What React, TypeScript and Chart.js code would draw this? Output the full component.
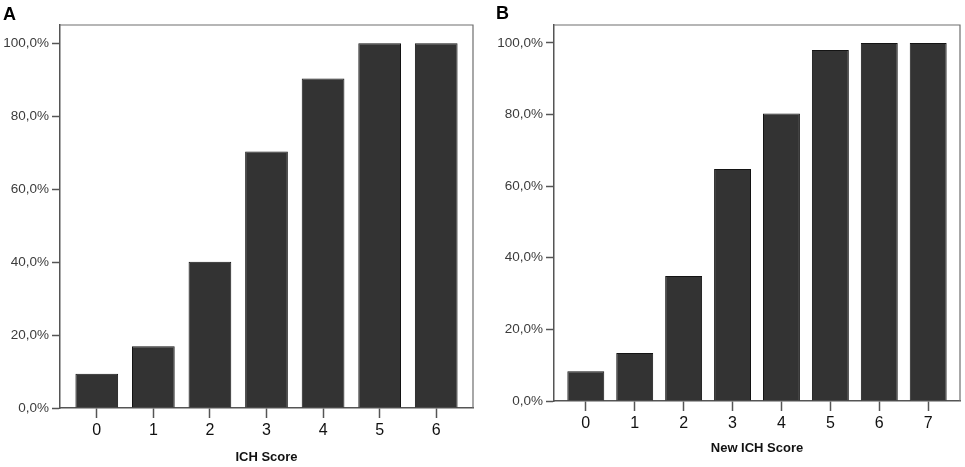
import React, { useEffect, useRef } from "react";
import { Chart, registerables } from "chart.js";

Chart.register(...registerables);

// ---- Data ----
const scoresA: string[] = ["0", "1", "2", "3", "4", "5", "6"];
const mortalityA: number[] = [9.4, 16.9, 40.1, 70.3, 90.3, 100, 100];

const scoresB: string[] = ["0", "1", "2", "3", "4", "5", "6", "7"];
const mortalityB: number[] = [8.3, 13.4, 34.9, 64.8, 80.3, 98.0, 100, 100];

const yTickValues: number[] = [0, 20, 40, 60, 80, 100];
const axisTitleA = "ICH Score";
const axisTitleB = "New ICH Score";
const panelLabels: string[] = ["A", "B"];

const FONT = "'Liberation Sans', Arial, Helvetica, sans-serif";

const framePlugin = {
  id: "frame",
  afterDraw(chart: any) {
    const { ctx, chartArea } = chart;
    ctx.save();
    ctx.strokeStyle = "#6e6e6e";
    ctx.lineWidth = 1.2;
    ctx.beginPath();
    ctx.moveTo(chartArea.left, chartArea.top);
    ctx.lineTo(chartArea.right, chartArea.top);
    ctx.lineTo(chartArea.right, chartArea.bottom);
    ctx.stroke();
    ctx.restore();
  },
};

type PanelCfg = {
  cats: string[];
  vals: number[];
  title: string;
  yWidth: number;
  xHeight: number;
  padRight: number;
  titlePadBottom: number;
};

function makeConfig(p: PanelCfg): any {
  const n = p.cats.length;
  const points = p.cats.map((c, i) => ({ x: i, y: p.vals[i] }));
  return {
    type: "bar",
    data: {
      datasets: [
        {
          data: points,
          backgroundColor: "#333333",
          borderColor: "#141414",
          borderWidth: 1,
          categoryPercentage: 1,
          barPercentage: 0.755,
        },
      ],
    },
    options: {
      responsive: false,
      animation: false,
      layout: { padding: { left: 0, top: 25, right: p.padRight, bottom: 0 } },
      plugins: { legend: { display: false }, tooltip: { enabled: false } },
      scales: {
        x: {
          type: "linear",
          offset: false,
          min: -0.65,
          max: n - 1 + 0.65,
          afterFit: (s: any) => {
            s.height = p.xHeight;
          },
          afterBuildTicks: (s: any) => {
            s.ticks = p.cats.map((c, i) => ({ value: i }));
          },
          ticks: {
            stepSize: 1,
            includeBounds: false,
            autoSkip: false,
            maxRotation: 0,
            padding: 3,
            color: "#111111",
            font: { family: FONT, size: 16 },
            callback: (v: number) => p.cats[Math.round(v)] ?? "",
          },
          grid: {
            display: true,
            offset: false,
            drawOnChartArea: false,
            drawTicks: true,
            tickLength: 10,
            tickWidth: 1.5,
            tickColor: "#555555",
          },
          border: { display: true, color: "#555555", width: 1.5 },
          title: {
            display: true,
            text: p.title,
            color: "#111111",
            font: { family: FONT, size: 13, weight: "bold" },
            padding: { top: 0, bottom: p.titlePadBottom },
          },
        },
        y: {
          type: "linear",
          min: 0,
          max: 105,
          afterFit: (s: any) => {
            s.width = p.yWidth;
          },
          afterBuildTicks: (s: any) => {
            s.ticks = yTickValues.map((v) => ({ value: v }));
          },
          ticks: {
            stepSize: 20,
            includeBounds: false,
            padding: 3,
            color: "#3c3c3c",
            font: { family: FONT, size: 13.5 },
            callback: (v: number) => `${Number(v).toFixed(1).replace(".", ",")}%`,
          },
          grid: {
            display: true,
            drawOnChartArea: false,
            drawTicks: true,
            tickLength: 8,
            tickWidth: 1.5,
            tickColor: "#555555",
          },
          border: { display: true, color: "#555555", width: 1.5 },
        },
      },
    },
    plugins: [framePlugin],
  };
}

function Panel(props: PanelCfg & { left: number; width: number }) {
  const ref = useRef<HTMLCanvasElement | null>(null);
  useEffect(() => {
    if (!ref.current) return;
    const chart = new Chart(ref.current, makeConfig(props));
    return () => chart.destroy();
  }, []);
  return (
    <canvas
      ref={ref}
      width={props.width}
      height={467}
      style={{ position: "absolute", left: props.left, top: 0, width: props.width, height: 467 }}
    />
  );
}

const letterStyle = {
  position: "absolute" as const,
  fontFamily: FONT,
  fontWeight: "bold" as const,
  fontSize: 18,
  lineHeight: "18px",
  color: "#000",
};

export default function App() {
  return (
    <div
      style={{
        position: "fixed",
        left: 0,
        top: 0,
        width: 965,
        height: 467,
        background: "#ffffff",
        overflow: "hidden",
      }}
    >
      <Panel
        cats={scoresA}
        vals={mortalityA}
        title={axisTitleA}
        yWidth={60}
        xHeight={59}
        padRight={7}
        titlePadBottom={2}
        left={0}
        width={480}
      />
      <Panel
        cats={scoresB}
        vals={mortalityB}
        title={axisTitleB}
        yWidth={74}
        xHeight={66}
        padRight={5}
        titlePadBottom={11}
        left={480}
        width={485}
      />
      <div style={{ ...letterStyle, left: 3, top: 5 }}>{panelLabels[0]}</div>
      <div style={{ ...letterStyle, left: 496, top: 4 }}>{panelLabels[1]}</div>
    </div>
  );
}
